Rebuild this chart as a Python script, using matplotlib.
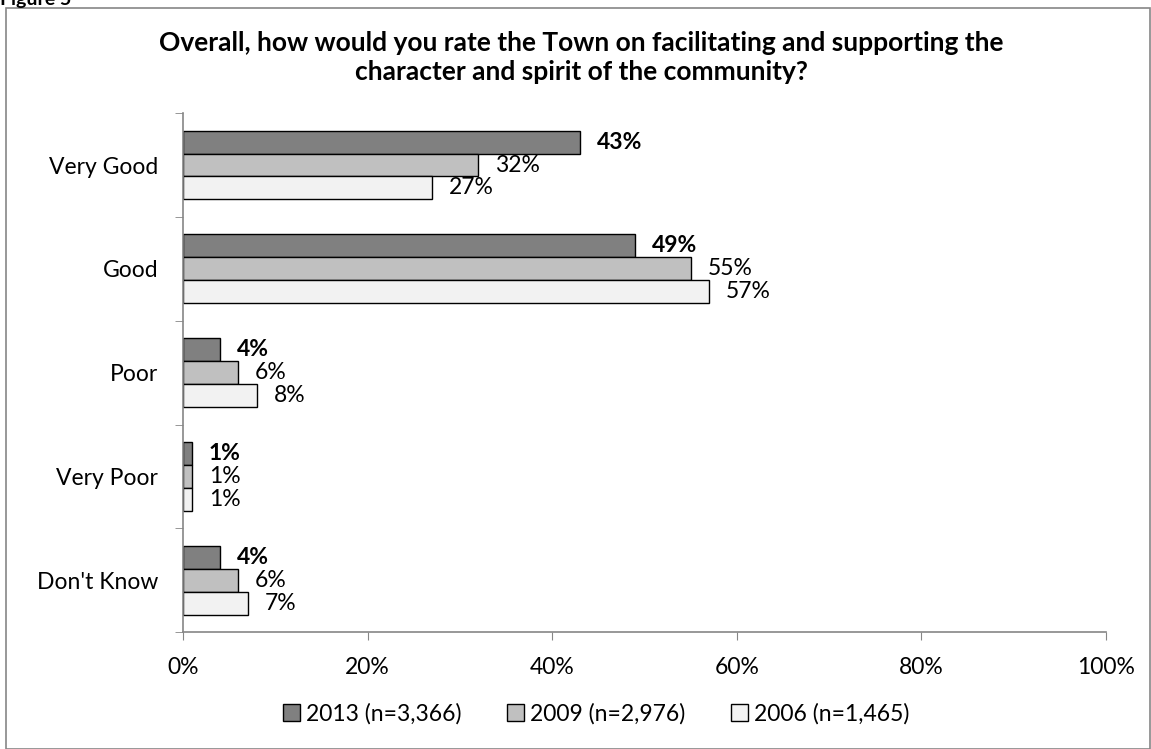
import matplotlib
matplotlib.use("Agg")
import matplotlib.pyplot as plt
import numpy as np
from matplotlib.patches import Rectangle

plt.rcParams["font.family"] = ["Lato", "DejaVu Sans"]

categories = ["Very Good", "Good", "Poor", "Very Poor", "Don't Know"]
series = ["2013 (n=3,366)", "2009 (n=2,976)", "2006 (n=1,465)"]
values_2013 = [43, 49, 4, 1, 4]
values_2009 = [32, 55, 6, 1, 6]
values_2006 = [27, 57, 8, 1, 7]
x_ticks = [0, 20, 40, 60, 80, 100]

COLORS = ["#808080", "#C0C0C0", "#F2F2F2"]
AXIS_GRAY = "#868686"
FS = 16.5

fig = plt.figure(figsize=(11.51, 7.49), dpi=100)
ax = fig.add_axes([0.159, 0.156, 0.802, 0.693])

# outer frame of the report figure box
fig.patches.append(Rectangle((0.005, 0.0), 0.994, 0.989, transform=fig.transFigure,
                             fill=False, edgecolor=AXIS_GRAY, lw=1.2))
fig.text(0.0, 1.0, "Figure 5", fontsize=14, fontweight="bold", ha="left", va="center")

y = np.arange(len(categories))
h = 0.221
for i, (vals, name, color) in enumerate(zip([values_2013, values_2009, values_2006], series, COLORS)):
    pos = y + (i - 1) * h
    ax.barh(pos, vals, height=h, color=color, edgecolor="black", linewidth=1.0, label=name)
    for p, v in zip(pos, vals):
        ax.annotate(f"{v}%", (v, p), xytext=(12, 0), textcoords="offset points",
                    va="center", ha="left", fontsize=FS,
                    fontweight="bold" if i == 0 else "normal")

ax.set_ylim(len(categories) - 0.5, -0.5)
ax.set_xlim(0, 100)
ax.set_xticks(x_ticks)
ax.set_xticklabels([f"{t}%" for t in x_ticks], fontsize=FS)
ax.set_yticks(y)
ax.set_yticklabels(categories, fontsize=FS)
ax.set_yticks(np.arange(len(categories) + 1) - 0.5, minor=True)
ax.tick_params(axis="y", which="major", length=0, pad=18)
ax.tick_params(axis="y", which="minor", length=6, color=AXIS_GRAY, direction="out")
ax.tick_params(axis="x", length=6, color=AXIS_GRAY, direction="out", pad=12)

for s in ["top", "right"]:
    ax.spines[s].set_visible(False)
for s in ["left", "bottom"]:
    ax.spines[s].set_color(AXIS_GRAY)
    ax.spines[s].set_linewidth(1.2)

fig.text(0.505, 0.958,
         "Overall, how would you rate the Town on facilitating and supporting the\n"
         "character and spirit of the community?",
         fontsize=19, fontweight="bold", ha="center", va="top", linespacing=1.25)

fig.legend(loc="center", bbox_to_anchor=(0.518, 0.047), ncol=3, frameon=False,
           fontsize=FS, handlelength=0.75, handleheight=0.75, handletextpad=0.25,
           columnspacing=2.0)

plt.savefig("out.png", dpi=100)
plt.close()
